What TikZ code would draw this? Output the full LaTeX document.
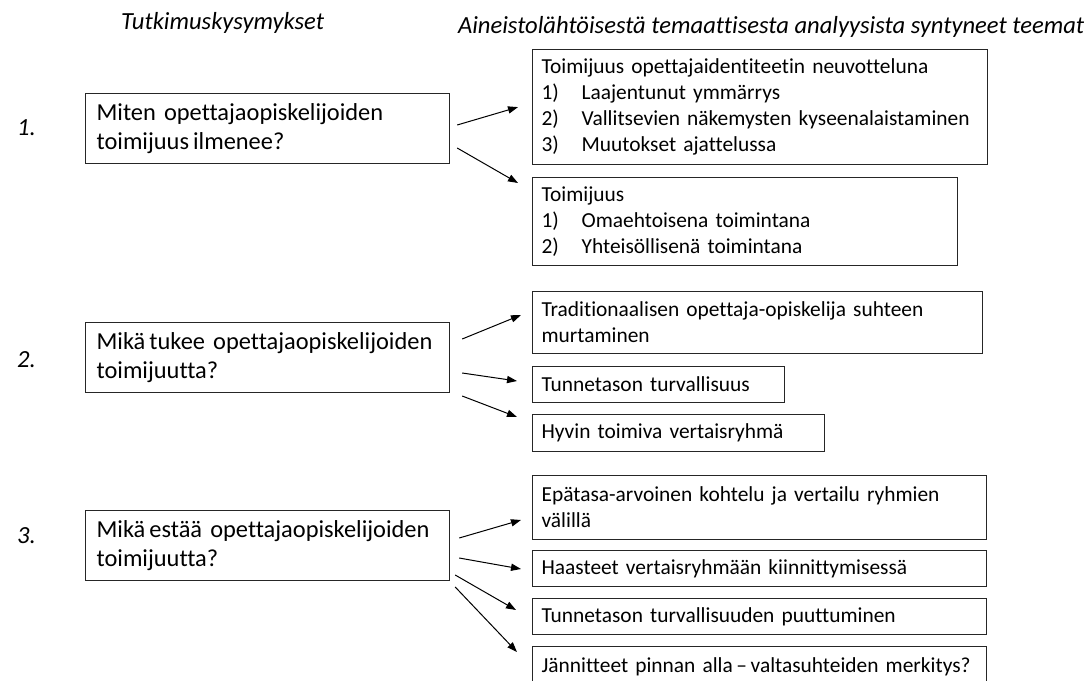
\documentclass[tikz,border=0pt]{standalone}
\usepackage{fontspec}
\setmainfont{Carlito}[Ligatures=NoCommon]
\usetikzlibrary{arrows.meta}

\tikzset{
  question/.style={draw=black!85, line width=0.6pt, anchor=north west, text width=171pt, minimum height=35pt, inner xsep=5.5pt, align=left, font=\fontsize{12.2}{14.6}\selectfont},
  theme/.style={draw=black!85, line width=0.6pt, anchor=north west, text width=#1, inner xsep=4.5pt, align=left, font=\fontsize{10.7}{13}\selectfont},
  heading/.style={anchor=base west, font=\fontsize{12.3}{14}\selectfont\itshape},
  arrow/.style={-{Triangle[length=5pt,width=3.6pt]}, line width=0.5pt}
}
\newcommand{\itemno}[1]{\makebox[20pt][l]{#1}}

\begin{document}
\begin{tikzpicture}[x=0.5pt,y=-0.5pt]
  \useasboundingbox (0,0) rectangle (1089,681);
  % headings
  \node[heading] (h1) at (114,29) {Tutkimuskysymykset};
  \node[heading] (h2) at (451,33) {Aineistolähtöisestä temaattisesta analyysista syntyneet teemat};
  \node[heading] (n1) at (10,135) {1.};
  \node[heading] (n2) at (10,367) {2.};
  \node[heading] (n3) at (10,543) {3.};
  % questions
  \node[question] (q1) at (85,93) {Miten opettajaopiskelijoiden\\toimijuus\,ilmenee?};
  \node[question] (q2) at (85,322) {Mikä\,tukee opettajaopiskelijoiden\\toimijuutta?};
  \node[question] (q3) at (85,510) {Mikä\,estää opettajaopiskelijoiden\\toimijuutta?};
  % themes
  \node[theme=218.5pt, minimum height=57.5pt] (t1a) at (532,49) {Toimijuus opettajaidentiteetin neuvotteluna\\
    \itemno{1)}Laajentunut ymmärrys\\
    \itemno{2)}Vallitsevien näkemysten kyseenalaistaminen\\
    \itemno{3)}Muutokset ajattelussa};
  \node[theme=203.5pt, minimum height=44pt] (t1b) at (532,177) {Toimijuus\\
    \itemno{1)}Omaehtoisena toimintana\\
    \itemno{2)}Yhteisöllisenä toimintana};
  \node[theme=216pt, minimum height=31pt] (t2a) at (532,291) {Traditionaalisen opettaja-opiskelija suhteen\\murtaminen};
  \node[theme=117pt, minimum height=18pt] (t2b) at (532,366) {Tunnetason turvallisuus};
  \node[theme=137pt, minimum height=18.5pt] (t2c) at (532,414) {Hyvin toimiva vertaisryhmä};
  \node[theme=218pt, minimum height=32pt] (t3a) at (532,475) {Epätasa-arvoinen kohtelu ja vertailu ryhmien\\välillä};
  \node[theme=218pt, minimum height=18pt] (t3b) at (532,550) {Haasteet vertaisryhmään kiinnittymisessä};
  \node[theme=218pt, minimum height=18pt] (t3c) at (532,598) {Tunnetason turvallisuuden puuttuminen};
  \node[theme=218pt, minimum height=20pt] (t3d) at (532,646) {Jännitteet pinnan alla\,--\,valtasuhteiden merkitys?};
  % arrows
  \draw[arrow] ([shift={(3.5pt,-16pt)}]q1.north east) -- ([xshift=-7pt]t1a.west);
  \draw[arrow] ([shift={(3.5pt,-27.5pt)}]q1.north east) -- ([shift={(-7pt,-3pt)}]t1b.north west);
  \draw[arrow] ([shift={(6pt,-8.5pt)}]q2.north east) -- ([shift={(-5.5pt,-12pt)}]t2a.north west);
  \draw[arrow] ([shift={(6pt,-25.5pt)}]q2.north east) -- ([shift={(-7.5pt,-7.5pt)}]t2b.north west);
  \draw[arrow] ([shift={(6pt,-37pt)}]q2.north east) -- ([shift={(-7.5pt,-1.5pt)}]t2c.north west);
  \draw[arrow] ([shift={(4.5pt,-14pt)}]q3.north east) -- ([shift={(-5.5pt,-22.5pt)}]t3a.north west);
  \draw[arrow] ([shift={(4.5pt,-24pt)}]q3.north east) -- ([shift={(-5.5pt,-9.5pt)}]t3b.north west);
  \draw[arrow] ([shift={(2.5pt,-32.5pt)}]q3.north east) -- ([shift={(-8pt,-6pt)}]t3c.north west);
  \draw[arrow] ([shift={(2.5pt,-38.5pt)}]q3.north east) -- ([shift={(-7.5pt,-3pt)}]t3d.north west);
\end{tikzpicture}
\end{document}
